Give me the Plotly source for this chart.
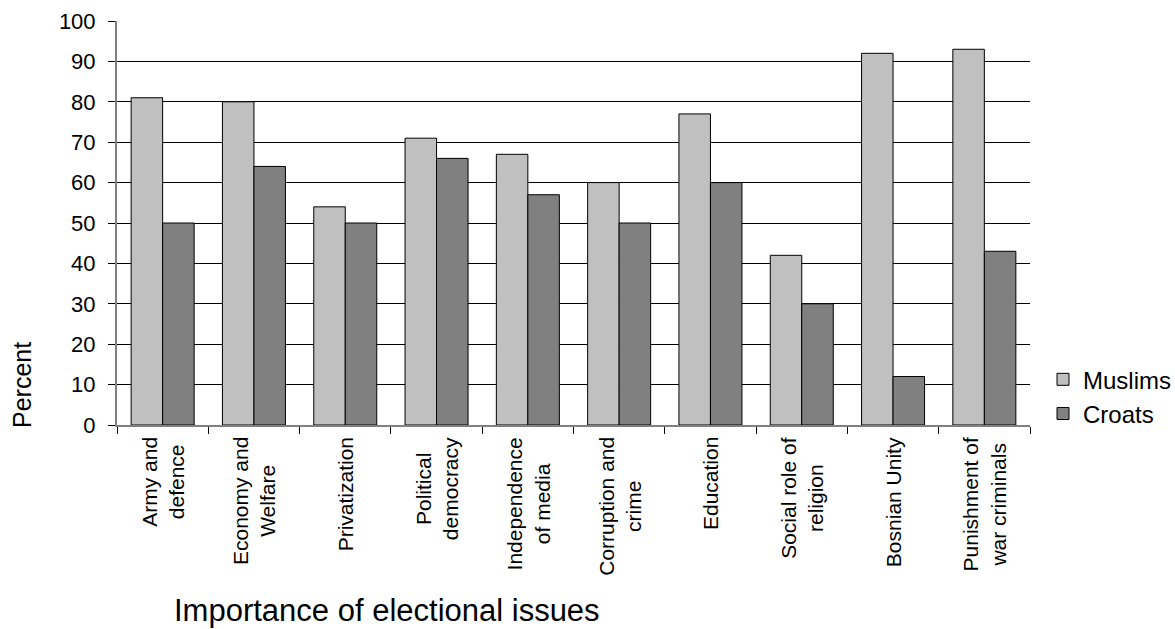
import plotly.graph_objects as go

categories = ["Army and<br>defence", "Economy and<br>Welfare", "Privatization",
              "Political<br>democracy", "Independence<br>of media", "Corruption and<br>crime",
              "Education", "Social role of<br>religion", "Bosnian Unity",
              "Punishment of<br>war criminals"]
cat_ids = ["c%d" % i for i in range(len(categories))]
muslims = [81, 80, 54, 71, 67, 60, 77, 42, 92, 93]
croats = [50, 64, 50, 66, 57, 50, 60, 30, 12, 43]
y_ticks = list(range(0, 101, 10))

FONT = "Liberation Sans, Arial, sans-serif"

fig = go.Figure()
fig.add_trace(go.Bar(x=cat_ids, y=muslims, name="Muslims",
                     marker=dict(color="#C0C0C0", line=dict(color="#000000", width=1))))
fig.add_trace(go.Bar(x=cat_ids, y=croats, name="Croats",
                     marker=dict(color="#808080", line=dict(color="#000000", width=1))))

for cid, lab in zip(cat_ids, categories):
    fig.add_annotation(x=cid, xref="x", y=-0.025, yref="paper", text=lab,
                       textangle=-90, showarrow=False, xanchor="center", yanchor="top",
                       align="center", font=dict(family=FONT, size=21, color="#000"))

fig.add_annotation(x=(387 - 117) / 913, xref="paper", y=-(610 - 425) / 404, yref="paper",
                   text="Importance of electional issues", xanchor="center", yanchor="middle",
                   showarrow=False, font=dict(family=FONT, size=31, color="#000"))
fig.add_annotation(x=-(117 - 22) / 913, xref="paper", y=(425 - 385) / 404, yref="paper",
                   text="Percent", textangle=-90, showarrow=False,
                   xanchor="center", yanchor="middle",
                   font=dict(family=FONT, size=25, color="#000"))

fig.update_layout(
    width=1175, height=629,
    margin=dict(l=117, r=145, t=21, b=204, autoexpand=False),
    plot_bgcolor="white", paper_bgcolor="white",
    barmode="group", bargap=0.31, bargroupgap=0,
    font=dict(family=FONT, size=21, color="#000"),
    showlegend=True,
    legend=dict(x=(1043 - 117) / 913, y=0.07, xanchor="left", yanchor="middle",
                font=dict(family=FONT, size=24, color="#000"),
                bgcolor="rgba(0,0,0,0)", tracegroupgap=4),
    xaxis=dict(type="category", showticklabels=False, tickson="boundaries",
               ticks="outside", ticklen=7, tickcolor="#000",
               showline=True, linecolor="#808080", linewidth=2,
               showgrid=False, range=[-0.5, 9.5]),
    yaxis=dict(range=[0, 100], tickvals=y_ticks, ticks="outside", ticklen=7,
               tickcolor="#000", showline=True, linecolor="#808080", linewidth=2,
               showgrid=True, gridcolor="#000", gridwidth=1, zeroline=False,
               ticklabelstandoff=8,
               tickfont=dict(family=FONT, size=22, color="#000")),
)

fig.write_html("out.html")
